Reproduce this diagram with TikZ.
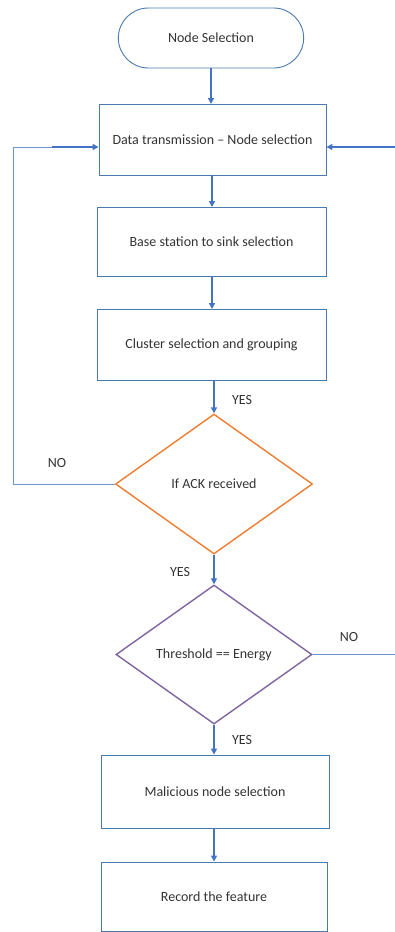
\documentclass[tikz,border=0pt]{standalone}
\usepackage{fontspec}
\setmainfont{Carlito}
\usetikzlibrary{shapes.geometric,shapes.misc,arrows.meta}
\definecolor{boxc}{HTML}{4A7AAE}
\definecolor{arrc}{HTML}{4472C4}
\definecolor{loopc}{HTML}{6F93CF}
\definecolor{orangec}{HTML}{ED7D31}
\definecolor{purplec}{HTML}{8064A2}
\definecolor{txtc}{HTML}{333333}
\tikzset{
  procbox/.style={draw=boxc, line width=0.9pt, rectangle, text=txtc, font=\fontsize{14}{16}\selectfont},
  termbox/.style={draw=boxc, line width=0.9pt, rounded rectangle, text=txtc, font=\fontsize{14}{16}\selectfont},
  decbox/.style={diamond, line width=1.4pt, text=txtc, font=\fontsize{14}{16}\selectfont, inner sep=0pt},
  flow/.style={draw=arrc, line width=1.6pt, -{Triangle[length=6pt,width=6pt]}},
  loopl/.style={draw=loopc, line width=0.9pt},
  lab/.style={text=txtc, font=\fontsize{14}{16}\selectfont},
}
\begin{document}
\begin{tikzpicture}[x=1pt,y=-1pt]
\useasboundingbox (0,0) rectangle (395,932);
\node[termbox, minimum width=192pt, minimum height=60pt] (start) at (211,38) {Node Selection};
\node[procbox, minimum width=227pt, minimum height=71pt] (b1) at (212.5,139.5) {Data transmission – Node selection};
\node[procbox, minimum width=229pt, minimum height=69pt] (b2) at (211.5,241.5) {Base station to sink selection};
\node[procbox, minimum width=229pt, minimum height=71pt] (b3) at (211.5,344.5) {Cluster selection and grouping};
\node[decbox, draw=orangec, minimum width=197pt, minimum height=140pt] (d1) at (214,484) {If ACK received};
\node[decbox, draw=purplec, minimum width=196pt, minimum height=139pt] (d2) at (214,654.5) {Threshold == Energy};
\node[procbox, minimum width=228pt, minimum height=73pt] (b4) at (215,791.5) {Malicious node selection};
\node[procbox, minimum width=226pt, minimum height=69pt] (b5) at (214,896.5) {Record the feature};

\draw[flow] (start.south-|211,0) -- (211,104);
\draw[flow] (b1.south-|212,0) -- (212,207);
\draw[flow] (b2.south-|212,0) -- (212,309);
\draw[flow] (b3.south-|214,0) -- (d1.north);
\draw[flow] (d1) -- (d2);
\draw[flow] (d2) -- (d2.south|-b4.north);
\draw[flow] (b4.south-|214,0) -- (b5.north-|214,0);

\coordinate (lt) at (13,147);
\coordinate (lb) at (d1.west-|lt);
\coordinate (rt) at (395,147);
\coordinate (rr) at (d2.east-|rt);
\draw[loopl] (d1.west) -- (lb) -- (lt) -- (52,147);
\draw[flow] (52,147) -- (b1.west|-lt);
\draw[flow] (rt) -- (b1.east|-rt);
\draw[loopl] (d2.east) -- (rr);

\node[lab] (y1) at (242,400) {YES};
\node[lab] (n1) at (57,463) {NO};
\node[lab] (y2) at (180,572) {YES};
\node[lab] (n2) at (349,637) {NO};
\node[lab] (y3) at (242,740) {YES};
\end{tikzpicture}
\end{document}
